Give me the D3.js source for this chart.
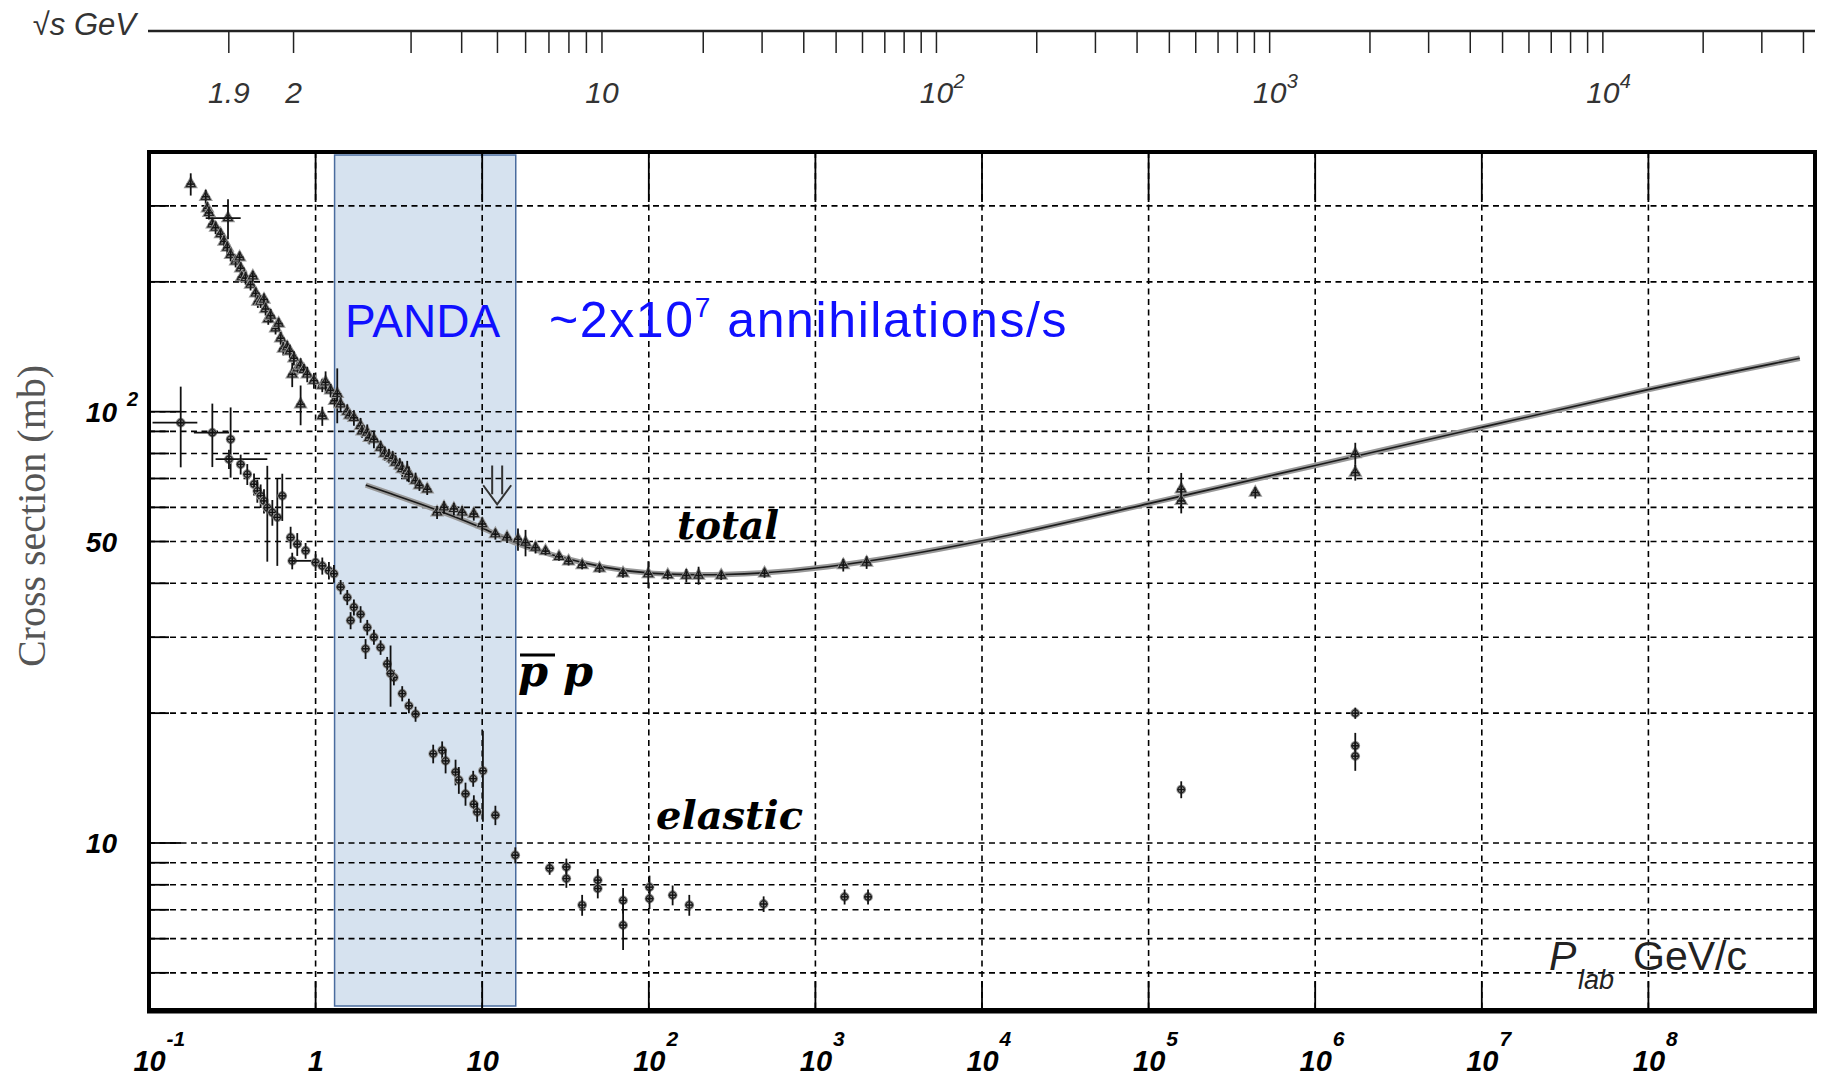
<!DOCTYPE html>
<html>
<head>
<meta charset="utf-8">
<script src="https://cdn.jsdelivr.net/npm/d3@7"></script>
<style>
  body { margin: 0; background: #fff; }
  svg { display: block; }
</style>
</head>
<body>
<div class="chart"></div>
<script>
// Data: [p_lab (GeV/c), sigma (mb), error (mb), optional p low, p high]
var totalLow = [
  [0.178, 337, 20], [0.219, 315, 12], [0.224, 296, 10], [0.229, 289, 10], [0.240, 272, 9],
  [0.251, 267, 9], [0.269, 258, 8], [0.282, 248, 8], [0.298, 281, 30, 0.219, 0.355], [0.295, 240, 8],
  [0.309, 231, 8], [0.331, 223, 7], [0.350, 228, 7], [0.355, 215, 7], [0.360, 205, 6],
  [0.380, 204, 7], [0.407, 197, 6], [0.420, 206, 6], [0.437, 188, 6], [0.450, 180, 6],
  [0.468, 180, 6], [0.490, 182, 6], [0.501, 173, 6], [0.520, 164, 5], [0.537, 167, 6],
  [0.575, 156, 5], [0.600, 160, 5], [0.617, 148, 5], [0.640, 140, 5], [0.676, 141, 5],
  [0.700, 138, 5], [0.724, 122, 8], [0.741, 133, 5], [0.780, 126, 4], [0.813, 128, 5],
  [0.813, 104, 11], [0.850, 125, 4], [0.891, 122, 5], [0.977, 118, 5], [1.097, 115, 4],
  [1.097, 97.7, 5], [1.148, 117, 7], [1.230, 112, 4], [1.300, 106, 4], [1.349, 110, 16],
  [1.413, 104, 4], [1.549, 100, 4], [1.600, 98, 3], [1.698, 96.8, 4], [1.862, 92.7, 4],
  [1.900, 90, 3], [2.042, 89.4, 4], [2.100, 87, 3], [2.239, 86.3, 4], [2.455, 82.6, 3],
  [2.600, 80, 3], [2.754, 78.9, 3], [2.900, 78, 3], [3.020, 76.2, 3], [3.200, 75, 3],
  [3.311, 73.6, 3], [3.548, 72.9, 4], [3.631, 71.6, 3], [3.981, 69.2, 3], [4.200, 67.5, 2],
  [4.677, 66.1, 2]
];

var totalHigh = [
  [5.36, 58.4, 2], [5.9, 60, 2], [6.76, 59.5, 2], [7.58, 58.4, 2], [8.9, 57.9, 2],
  [10, 54.9, 2], [12, 52, 1.5], [14.1, 51.1, 1.5], [16.4, 50.6, 3], [18.2, 49.7, 3.5],
  [20.9, 48.4, 1.5], [24, 47.5, 1], [28.9, 46.1, 1], [33, 45, 1], [39.8, 44.1, 1],
  [50.6, 43.3, 1], [70, 42.2, 1], [99.3, 42.0, 3], [130, 41.8, 1], [168, 41.7, 1.5],
  [199, 41.7, 2], [272, 41.7, 1], [495, 42.2, 1], [1470, 44.1, 1.5], [2030, 44.7, 1.5],
  [1.57e5, 66.1, 6], [1.57e5, 62.1, 4], [4.37e5, 64.9, 2], [1.74e6, 79.7, 5], [1.74e6, 72.2, 3]
];

var fitP = [2, 3, 4.26, 6, 10, 15.9, 30, 55, 100, 273, 1000, 1e4, 1e5, 1e6, 1e7, 1e8, 8.1e8];
var fitSigma = [67.6, 64, 61.1, 58.2, 53.9, 49.3, 45.8, 43.4, 42, 41.7, 42.8, 49.7, 61.3, 75, 92, 113, 133];

var elastic = [
  [0.155, 94.3, 20, 0.105, 0.195], [0.240, 89.4, 15, 0.186, 0.302], [0.309, 86.3, 16], [0.302, 77.6, 4, 0.251, 0.513],
  [0.355, 75.5, 4], [0.389, 71.6, 4], [0.427, 67.9, 4], [0.447, 65.5, 4], [0.468, 63.8, 4],
  [0.490, 62.1, 4], [0.513, 59.9, 15], [0.550, 58.4, 4], [0.589, 56.9, 13], [0.631, 63.8, 8],
  [0.708, 51.1, 3], [0.776, 49.3, 3], [0.871, 47.6, 2], [0.724, 45.1, 2, 0.724, 1.0], [1.0, 44.7, 2],
  [1.097, 43.9, 2], [1.202, 42.8, 2], [1.288, 42.1, 2], [1.413, 39.2, 1.5], [1.549, 37.1, 1.5],
  [1.698, 35.2, 1.5], [1.862, 33.9, 1.5], [2.042, 31.6, 1.3], [2.239, 30.0, 1.2], [2.455, 28.4, 1.1],
  [2.69, 26.0, 1], [2.95, 24.2, 1], [3.311, 22.2, 0.9], [3.631, 20.8, 0.8], [3.981, 19.9, 0.8],
  [1.622, 32.8, 1.5], [1.995, 28.2, 1.5], [2.818, 24.7, 4], [5.08, 16.1, 0.8], [5.75, 16.4, 0.8],
  [6.03, 15.5, 1], [6.92, 14.6, 1], [7.24, 14.0, 1], [7.94, 13.0, 0.8], [8.83, 14.1, 0.6],
  [8.91, 12.3, 0.6], [9.33, 11.8, 0.6], [10.1, 14.7, 3.5], [12.0, 11.6, 0.6], [15.8, 9.37, 0.4],
  [25.4, 8.74, 0.3], [32.0, 8.8, 0.4], [32.0, 8.27, 0.4], [39.8, 7.18, 0.4], [49.4, 8.2, 0.5],
  [49.4, 7.84, 0.4], [70.1, 7.36, 0.5], [70.1, 6.45, 0.8], [101, 7.9, 0.5], [101, 7.43, 0.4],
  [139, 7.57, 0.4], [175, 7.18, 0.4], [489, 7.22, 0.3], [1497, 7.5, 0.3], [2070, 7.5, 0.3],
  [1.57e5, 13.3, 0.6], [1.74e6, 20, 0.6], [1.74e6, 16.8, 1.2], [1.74e6, 15.9, 1.2]
];

var pandaRange = [1.3, 15.9];
var xDomain = [0.1, 1e9];
var yDomain = [4.1, 400];
var sigmaGrid = [5, 6, 7, 8, 9, 10, 20, 30, 40, 50, 60, 70, 80, 90, 100, 200, 300];
var plabGrid = [1, 10, 100, 1e3, 1e4, 1e5, 1e6, 1e7, 1e8];
var plabLabels = [[0.1, "10", "-1"], [1, "1", ""], [10, "10", ""], [100, "10", "2"], [1e3, "10", "3"],
  [1e4, "10", "4"], [1e5, "10", "5"], [1e6, "10", "6"], [1e7, "10", "7"], [1e8, "10", "8"]];
var sigmaLabels = [[10, "10", ""], [50, "50", ""], [100, "10", "2"]];
var sqrtSTicks = [1.9, 2, 3, 4, 5, 6, 7, 8, 9, 10, 20, 30, 40, 50, 60, 70, 80, 90, 100, 200, 300, 400, 500,
  600, 700, 800, 900, 1000, 2000, 3000, 4000, 5000, 6000, 7000, 8000, 9000, 10000, 20000, 30000, 40000];
var sqrtSLabels = [[1.9, "1.9", ""], [2, "2", ""], [10, "10", ""], [100, "10", "2"], [1000, "10", "3"], [10000, "10", "4"]];
var arrowAt = [12.3, 75, 61];

var W = 1824, H = 1076;
var frame = { left: 149, right: 1815, top: 152, bottom: 1010 };

var svg = d3.select(".chart").append("svg")
    .attr("width", W)
    .attr("height", H)
    .style("font-family", "'Liberation Sans', Arial, sans-serif");

var x = d3.scaleLog().domain(xDomain).range([frame.left, frame.right]);
var y = d3.scaleLog().domain(yDomain).range([frame.bottom, frame.top]);

// PANDA band
svg.append("rect")
    .attr("x", x(pandaRange[0]))
    .attr("y", frame.top + 3)
    .attr("width", x(pandaRange[1]) - x(pandaRange[0]))
    .attr("height", frame.bottom - frame.top - 7)
    .attr("fill", "#d6e2ef")
    .attr("stroke", "#4a6c9e")
    .attr("stroke-width", 1.5);

// grid
var grid = svg.append("g").attr("stroke", "#000").attr("stroke-width", 1.6).attr("stroke-dasharray", "6,4.5");
grid.selectAll(".hg").data(sigmaGrid).enter().append("line")
    .attr("x1", frame.left).attr("x2", frame.right)
    .attr("y1", function(d) { return y(d); }).attr("y2", function(d) { return y(d); });
grid.selectAll(".vg").data(plabGrid).enter().append("line")
    .attr("y1", frame.top).attr("y2", frame.bottom)
    .attr("x1", function(d) { return x(d); }).attr("x2", function(d) { return x(d); });

// frame ticks
function isDecade(v) { return Math.abs(Math.log10(v) - Math.round(Math.log10(v))) < 1e-6; }
var xt = x.ticks().filter(function(d) { return d > xDomain[0] && d < xDomain[1]; });
var ticks = svg.append("g").attr("stroke", "#000").attr("stroke-width", 1.8);
ticks.selectAll(".tt").data(xt).enter().append("line")
    .attr("x1", function(d) { return x(d); }).attr("x2", function(d) { return x(d); })
    .attr("y1", frame.top).attr("y2", function(d) { return frame.top + (isDecade(d) ? 50 : 25); });
ticks.selectAll(".bt").data(xt).enter().append("line")
    .attr("x1", function(d) { return x(d); }).attr("x2", function(d) { return x(d); })
    .attr("y1", frame.bottom).attr("y2", function(d) { return frame.bottom - (isDecade(d) ? 29 : 11); });
ticks.selectAll(".lt").data(sigmaGrid).enter().append("line")
    .attr("y1", function(d) { return y(d); }).attr("y2", function(d) { return y(d); })
    .attr("x1", frame.left).attr("x2", function(d) { return frame.left + (isDecade(d) ? 32 : 20); });

// fit curve
var fit = fitP.map(function(p, i) { return [p, fitSigma[i]]; });
var line = d3.line()
    .x(function(d) { return x(d[0]); })
    .y(function(d) { return y(d[1]); })
    .curve(d3.curveBasis);
svg.append("path").datum(fit).attr("d", line)
    .attr("fill", "none").attr("stroke", "#999").attr("stroke-width", 5.5);
svg.append("path").datum(fit).attr("d", line)
    .attr("fill", "none").attr("stroke", "#1a1a1a").attr("stroke-width", 1.6);

// data points with error bars
function drawPoints(data, symbolType) {
  var g = svg.append("g");
  var pts = g.selectAll("g").data(data).enter().append("g");
  pts.append("path")
      .attr("d", d3.symbol().type(symbolType).size(34))
      .attr("transform", function(d) { return "translate(" + x(d[0]) + "," + y(d[1]) + ")"; })
      .attr("fill", "none").attr("stroke", "#999").attr("stroke-width", 3.2);
  pts.append("line")
      .attr("x1", function(d) { return x(d[0]); }).attr("x2", function(d) { return x(d[0]); })
      .attr("y1", function(d) { return y(d[1] + d[2]); })
      .attr("y2", function(d) { return y(Math.max(d[1] - d[2], 4.2)); })
      .attr("stroke", "#111").attr("stroke-width", 1.8);
  pts.filter(function(d) { return d.length > 3; }).append("line")
      .attr("x1", function(d) { return x(d[3]); }).attr("x2", function(d) { return x(d[4]); })
      .attr("y1", function(d) { return y(d[1]); }).attr("y2", function(d) { return y(d[1]); })
      .attr("stroke", "#111").attr("stroke-width", 1.8);
  pts.append("line")
      .attr("x1", function(d) { return x(d[0]) - 4; }).attr("x2", function(d) { return x(d[0]) + 4; })
      .attr("y1", function(d) { return y(d[1]); }).attr("y2", function(d) { return y(d[1]); })
      .attr("stroke", "#111").attr("stroke-width", 1.6);
  pts.append("path")
      .attr("d", d3.symbol().type(symbolType).size(34))
      .attr("transform", function(d) { return "translate(" + x(d[0]) + "," + y(d[1]) + ")"; })
      .attr("fill", "none").attr("stroke", "#222").attr("stroke-width", 1.2);
}
drawPoints(totalLow, d3.symbolTriangle);
drawPoints(totalHigh, d3.symbolTriangle);
drawPoints(elastic, d3.symbolCircle);

// frame
svg.append("rect")
    .attr("x", frame.left).attr("y", frame.top)
    .attr("width", frame.right - frame.left).attr("height", frame.bottom - frame.top)
    .attr("fill", "none").attr("stroke", "#000").attr("stroke-width", 4);
svg.append("line").attr("x1", frame.left - 2).attr("x2", frame.right + 2)
    .attr("y1", frame.bottom + 1).attr("y2", frame.bottom + 1)
    .attr("stroke", "#000").attr("stroke-width", 5);

// bottom tick labels
var bl = svg.append("g").attr("font-weight", "bold").attr("font-style", "italic").attr("fill", "#000");
plabLabels.forEach(function(d) {
  var cx = x(d[0]);
  var bw = d[1].length * 15.6;
  bl.append("text").attr("x", cx - bw / 2).attr("y", 1071).attr("font-size", 29).text(d[1]);
  if (d[2]) bl.append("text").attr("x", cx + bw / 2 + 2).attr("y", 1046).attr("font-size", 21).text(d[2]);
});

// left tick labels
sigmaLabels.forEach(function(d) {
  bl.append("text").attr("x", 117).attr("y", y(d[0]) + 10).attr("font-size", 28)
      .attr("text-anchor", "end").text(d[1]);
  if (d[2]) bl.append("text").attr("x", 127).attr("y", y(d[0]) - 6).attr("font-size", 20).text(d[2]);
});

// y axis title
svg.append("text")
    .attr("transform", "translate(45," + 516 + ") rotate(-90)")
    .attr("text-anchor", "middle")
    .attr("font-family", "'Liberation Serif', 'Times New Roman', serif")
    .attr("font-size", 40)
    .attr("fill", "#555")
    .text("Cross section (mb)");

// top sqrt(s) axis
var mp = 0.938272;
function plabOf(w) {
  var E = (w * w - 2 * mp * mp) / (2 * mp);
  return Math.sqrt(E * E - mp * mp);
}
var topY = 31;
svg.append("line").attr("x1", 148).attr("x2", frame.right).attr("y1", topY).attr("y2", topY)
    .attr("stroke", "#222").attr("stroke-width", 2.4);
svg.append("g").selectAll("line").data(sqrtSTicks).enter().append("line")
    .attr("x1", function(d) { return x(plabOf(d)); }).attr("x2", function(d) { return x(plabOf(d)); })
    .attr("y1", topY).attr("y2", topY + 22)
    .attr("stroke", "#222").attr("stroke-width", 1.5);
var tl = svg.append("g").attr("font-style", "italic").attr("fill", "#333");
sqrtSLabels.forEach(function(d) {
  var cx = x(plabOf(d[0]));
  tl.append("text").attr("x", cx).attr("y", 103).attr("font-size", 30).attr("text-anchor", "middle").text(d[1]);
  if (d[2]) tl.append("text").attr("x", cx + 17).attr("y", 88).attr("font-size", 20).text(d[2]);
});
tl.append("text").attr("x", 136).attr("y", 35).attr("font-size", 31).attr("text-anchor", "end").text("\u221As GeV");

// annotations
svg.append("text").attr("x", 345).attr("y", 337).attr("font-size", 46).attr("fill", "#1010ff").text("PANDA");
var ann = svg.append("text").attr("x", 549).attr("y", 337).attr("font-size", 50)
    .attr("letter-spacing", 1.6).attr("fill", "#1010ff");
ann.append("tspan").text("~2x10");
ann.append("tspan").attr("font-size", 28).attr("dy", -20).text("7");
ann.append("tspan").attr("dy", 20).text(" annihilations/s");

var serifBI = "'DejaVu Serif', serif";
svg.append("text").attr("x", 677).attr("y", 539).attr("font-family", serifBI).attr("font-weight", "bold")
    .attr("font-style", "italic").attr("font-size", 39).text("total");
svg.append("text").attr("x", 656).attr("y", 829).attr("font-family", serifBI).attr("font-weight", "bold")
    .attr("font-style", "italic").attr("font-size", 40).text("elastic");
svg.append("text").attr("x", 518).attr("y", 686).attr("font-family", serifBI).attr("font-weight", "bold")
    .attr("font-style", "italic").attr("font-size", 43).text("p p");
svg.append("line").attr("x1", 520).attr("x2", 555).attr("y1", 655).attr("y2", 655)
    .attr("stroke", "#000").attr("stroke-width", 3);

// arrow
var ax = x(arrowAt[0]), ay0 = y(arrowAt[1]), ay1 = y(arrowAt[2]);
svg.append("path")
    .attr("d", "M" + (ax - 5) + "," + ay0 + "V" + (ay1 - 10) + "M" + (ax + 5) + "," + ay0 + "V" + (ay1 - 10) +
               "M" + (ax - 14) + "," + (ay1 - 19) + "L" + ax + "," + ay1 + "L" + (ax + 14) + "," + (ay1 - 19))
    .attr("fill", "none").attr("stroke", "#333").attr("stroke-width", 2);

// P_lab label
svg.append("text").attr("x", 1549).attr("y", 970).attr("font-size", 41).attr("font-style", "italic")
    .attr("fill", "#222").text("P");
svg.append("text").attr("x", 1578).attr("y", 989).attr("font-size", 27).attr("font-style", "italic")
    .attr("fill", "#222").text("lab");
svg.append("text").attr("x", 1633).attr("y", 970).attr("font-size", 41)
    .attr("fill", "#222").text("GeV/c");
</script>
</body>
</html>
